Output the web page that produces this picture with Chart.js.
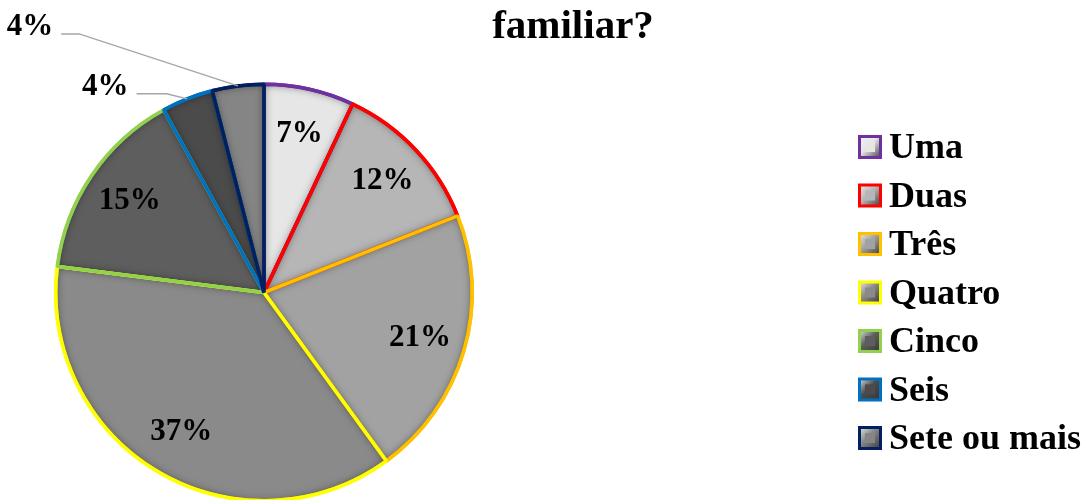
<!DOCTYPE html>
<html>
<head>
<meta charset="utf-8">
<script src="https://cdn.jsdelivr.net/npm/chart.js@4.4.1/dist/chart.umd.min.js"></script>
<style>
    html, body { margin: 0; padding: 0; background: #fff; overflow: hidden; }
    #wrap { width: 1089px; height: 500px; overflow: hidden; }
</style>
</head>
<body>
<div id="wrap"><canvas id="pieChart" width="1089" height="503"></canvas></div>
<script>
// ==========================================
// Data
// ==========================================
const labels = ['Uma', 'Duas', 'Três', 'Quatro', 'Cinco', 'Seis', 'Sete ou mais'];
const percentages = [7, 12, 21, 37, 15, 4, 4];
const titleText = 'familiar?';

const sliceFills = ['#e6e6e6', '#b6b6b6', '#a2a2a2', '#8a8a8a', '#5e5e5e', '#4b4b4b', '#858585'];
const sliceBorders = ['#7030a0', '#ff0000', '#ffc000', '#ffff00', '#92d050', '#0070c0', '#002060'];

const serif = "'Liberation Serif', 'Times New Roman', serif";

function slicePath(ctx, p) {
    ctx.beginPath();
    ctx.moveTo(p.x, p.y);
    ctx.arc(p.x, p.y, p.outerRadius, p.startAngle, p.endAngle);
    ctx.closePath();
}

// soft inner shadow on each slice, then the coloured borders again on top
const bevel = {
    id: 'bevel',
    afterDatasetDraw(chart, args, opts) {
        const ctx = chart.ctx;
        const ds = chart.data.datasets[0];
        const meta = chart.getDatasetMeta(0);
        meta.data.forEach((arc) => {
            const p = arc.getProps(['x', 'y', 'startAngle', 'endAngle', 'outerRadius'], true);
            ctx.save();
            slicePath(ctx, p);
            ctx.clip();
            ctx.beginPath();
            ctx.rect(0, 0, chart.width, chart.height);
            ctx.moveTo(p.x, p.y);
            ctx.arc(p.x, p.y, p.outerRadius, p.startAngle, p.endAngle);
            ctx.closePath();
            ctx.shadowColor = 'rgba(0, 0, 0, 0.55)';
            ctx.shadowBlur = opts.blur;
            ctx.fillStyle = '#000';
            ctx.fill('evenodd');
            ctx.restore();
        });
        meta.data.forEach((arc, i) => {
            const p = arc.getProps(['x', 'y', 'startAngle', 'endAngle', 'outerRadius'], true);
            ctx.save();
            slicePath(ctx, p);
            ctx.lineJoin = 'bevel';
            ctx.lineWidth = ds.borderWidth;
            ctx.strokeStyle = ds.borderColor[i];
            ctx.stroke();
            ctx.restore();
        });
    }
};

// percent labels, inside the slices or pulled out with a leader line
const pieLabels = {
    id: 'pieLabels',
    afterDatasetsDraw(chart, args, opts) {
        const ctx = chart.ctx;
        const meta = chart.getDatasetMeta(0);
        ctx.save();
        ctx.font = `bold ${opts.size}px ${serif}`;
        ctx.fillStyle = '#000';
        ctx.textAlign = 'center';
        ctx.textBaseline = 'middle';
        meta.data.forEach((arc, i) => {
            const { x, y, startAngle, endAngle, outerRadius } =
                arc.getProps(['x', 'y', 'startAngle', 'endAngle', 'outerRadius'], true);
            const mid = (startAngle + endAngle) / 2;
            const text = percentages[i] + '%';
            const out = opts.outside[i];
            if (out) {
                const ex = x + Math.cos(mid) * outerRadius;
                const ey = y + Math.sin(mid) * outerRadius;
                const lx = ex + out.dx;
                const ly = ey + out.dy;
                const w = ctx.measureText(text).width;
                ctx.strokeStyle = '#a6a6a6';
                ctx.lineWidth = 1.5;
                ctx.beginPath();
                ctx.moveTo(lx + w / 2 + 8, ly + 7);
                ctx.lineTo(lx + w / 2 + 8 + out.run, ly + 7);
                ctx.lineTo(ex, ey);
                ctx.stroke();
                ctx.fillText(text, lx, ly);
            } else {
                const r = outerRadius * opts.inset;
                ctx.fillText(text, x + Math.cos(mid) * r, y + Math.sin(mid) * r);
            }
        });
        ctx.restore();
    }
};

// legend drawn on the right, one row per category
const sideLegend = {
    id: 'sideLegend',
    afterDraw(chart, args, opts) {
        const ctx = chart.ctx;
        const ds = chart.data.datasets[0];
        ctx.save();
        ctx.font = `bold ${opts.size}px ${serif}`;
        ctx.textAlign = 'left';
        ctx.textBaseline = 'alphabetic';
        chart.data.labels.forEach((label, i) => {
            const base = opts.top + i * opts.step;
            const bx = opts.x;
            const by = base - opts.box + 1;
            ctx.fillStyle = ds.borderColor[i];
            ctx.fillRect(bx, by, opts.box, opts.box);
            const g = ctx.createLinearGradient(bx, by, bx + opts.box, by + opts.box);
            g.addColorStop(0, '#f2f2f2');
            g.addColorStop(0.45, ds.backgroundColor[i]);
            g.addColorStop(1, '#333');
            ctx.fillStyle = g;
            ctx.fillRect(bx + 3, by + 3, opts.box - 6, opts.box - 6);
            ctx.fillStyle = ds.backgroundColor[i];
            ctx.fillRect(bx + 7, by + 7, opts.box - 14, opts.box - 14);
            ctx.fillStyle = '#000';
            ctx.fillText(label, bx + opts.box + 7, base);
        });
        ctx.restore();
    }
};

const titleText_ = {
    id: 'titleText_',
    afterDraw(chart, args, opts) {
        const ctx = chart.ctx;
        ctx.save();
        ctx.font = `bold ${opts.size}px ${serif}`;
        ctx.fillStyle = '#000';
        ctx.textAlign = 'center';
        ctx.textBaseline = 'alphabetic';
        ctx.fillText(titleText, opts.x, opts.y);
        ctx.restore();
    }
};

const chart = new Chart(document.getElementById('pieChart'), {
    type: 'pie',
    data: {
        labels,
        datasets: [{
            data: percentages,
            backgroundColor: sliceFills,
            borderColor: sliceBorders,
            borderWidth: 3.5
        }]
    },
    options: {
        responsive: false,
        animation: false,
        layout: { padding: { left: 54, right: 615, top: 82, bottom: 0 } },
        plugins: {
            legend: { display: false },
            tooltip: { enabled: false },
            bevel: { blur: 9 },
            pieLabels: {
                size: 31,
                inset: 0.78,
                outside: { 5: { dx: -82, dy: -12, run: 30 }, 6: { dx: -208, dy: -59, run: 18 } }
            },
            sideLegend: { x: 858, top: 158, step: 48.5, box: 24, size: 36 },
            titleText_: { x: 573, y: 38, size: 41 }
        }
    },
    plugins: [bevel, pieLabels, sideLegend, titleText_]
});
</script>
</body>
</html>
